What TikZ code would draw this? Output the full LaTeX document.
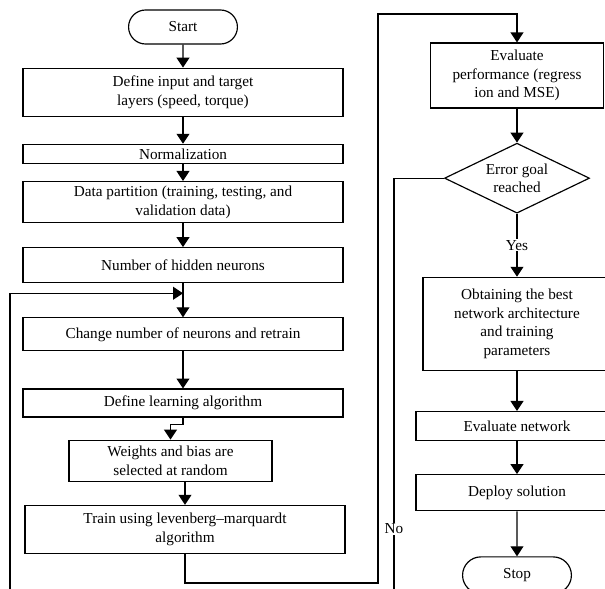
\documentclass[tikz,border=0pt]{standalone}
\usepackage{fontspec}
\setmainfont{Liberation Serif}
\usetikzlibrary{shapes.geometric,shapes.misc}
\usetikzlibrary{arrows.meta}
\usetikzlibrary{calc,positioning}

\begin{document}
\begin{tikzpicture}[x=0.03cm, y=-0.03cm, font=\fontsize{13}{16}\selectfont, >={Triangle[width=11pt,length=8.5pt]}]
	\tikzstyle{stage}=[draw, line width=1pt, rectangle, align=center, inner sep=1pt, minimum width=9.6cm]
	\tikzstyle{terminal}=[draw, line width=1pt, rounded rectangle, minimum width=3.5cm, minimum height=1.02cm]
	\tikzstyle{decision}=[draw, line width=1pt, diamond, aspect=2.07, align=center, inner sep=0pt, minimum width=4.35cm, minimum height=2.1cm]
	\tikzstyle{flow}=[->, line width=1pt]
	\useasboundingbox (0,0) rectangle (605,589);
	\clip (0,0) rectangle (605,589);

	% left column
	\node[terminal] (startNode) at (183,27) {Start};
	\node[stage, minimum height=1.44cm] [below=0.69cm of startNode] (inputBox) {Define input and target\\layers (speed, torque)};
	\node[stage, minimum height=0.57cm] [below=0.81cm of inputBox] (normBox) {Normalization};
	\node[stage, minimum height=1.23cm] [below=0.51cm of normBox] (partBox) {Data partition (training, testing, and\\validation data)};
	\node[stage, minimum height=1.05cm] [below=0.72cm of partBox] (hiddenBox) {Number of hidden neurons};
	\coordinate [below=0.3cm of hiddenBox.south] (loopJoin);
	\node[stage, minimum height=0.99cm] [below=1.02cm of hiddenBox] (changeBox) {Change number of neurons and retrain};
	\node[stage, minimum height=0.84cm] [below=1.11cm of changeBox] (learnBox) {Define learning algorithm};
	\node[stage, minimum height=1.23cm, minimum width=6.09cm] [below=0.66cm of learnBox, xshift=-0.375cm] (weightBox) {Weights and bias are\\selected at random};
	\node[stage, minimum height=1.44cm] [below=0.69cm of weightBox, xshift=0.435cm] (trainBox) {Train using levenberg--marquardt\\algorithm};

	% right column
	\node[stage, minimum height=1.95cm, minimum width=5.19cm] (perfBox) at (517,75.5) {Evaluate\\performance (regress\\ion and MSE)};
	\node[decision] [below=1.02cm of perfBox] (goalTest) {Error goal\\reached};
	\node[stage, minimum height=2.79cm, minimum width=5.64cm] [below=1.89cm of goalTest] (bestBox) {Obtaining the best\\network architecture\\and training\\parameters};
	\node[stage, minimum height=0.87cm, minimum width=6.06cm] [below=1.2cm of bestBox] (evalBox) {Evaluate network};
	\node[stage, minimum height=1.08cm, minimum width=6.06cm] [below=0.99cm of evalBox] (deployBox) {Deploy solution};
	\node[terminal, minimum height=1.1cm] [below=1.35cm of deployBox] (stopNode) {Stop};

	\coordinate (topTurn) at (378,14);
	\coordinate (noTurn) at (394,620);
	\coordinate (leftTurn) at (10,620);

	\draw[flow] (startNode) -- (inputBox);
	\draw[flow] (inputBox) -- (normBox);
	\draw[flow] (normBox) -- (partBox);
	\draw[flow] (partBox) -- (hiddenBox);
	\draw[flow] (hiddenBox) -- (changeBox);
	\draw[flow] (changeBox) -- (learnBox);
	\draw[flow] (learnBox.south) -- ++(0,7) -| (weightBox.north);
	\draw[flow] (trainBox.north |- weightBox.south) -- (trainBox.north);
	\draw[flow] (trainBox.south) -- ++(0,29) -| (topTurn) -| (perfBox.north);
	\draw[flow] (perfBox) -- (goalTest);
	\draw[flow] (goalTest) -- node[fill=white, inner sep=1pt] (yesLabel) {Yes} (bestBox);
	\draw[flow] (bestBox) -- (evalBox);
	\draw[flow] (evalBox) -- (deployBox);
	\draw[flow] (deployBox) -- (stopNode);
	\draw[flow] (goalTest.west) -| (noTurn) -- (leftTurn) |- (loopJoin);
	\node[fill=white, inner sep=1pt] (noLabel) at (394,529) {No};
\end{tikzpicture}
\end{document}
